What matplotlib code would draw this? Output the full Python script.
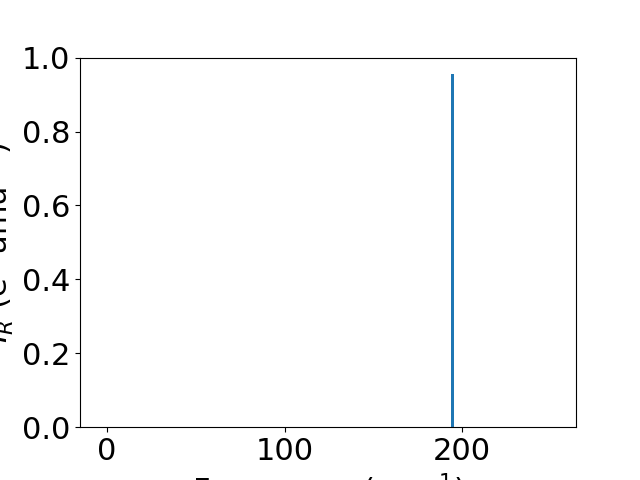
import matplotlib
matplotlib.use("Agg")
import matplotlib.pyplot as plt

frequencies = [194.5]
intensities = [0.955]

plt.rcParams['font.size'] = 22
fig, ax = plt.subplots(figsize=(6.4, 4.8), dpi=100)
ax.bar(frequencies, intensities, width=1.7, color='C0')
ax.set_xlim(-15.2, 264.2)
ax.set_ylim(0, 1)
ax.set_xlabel("Frequency (cm$^{-1}$)")
ax.set_ylabel("$I_R$ (e$^2$ amu$^{-1}$)")
fig.savefig("out.png")
